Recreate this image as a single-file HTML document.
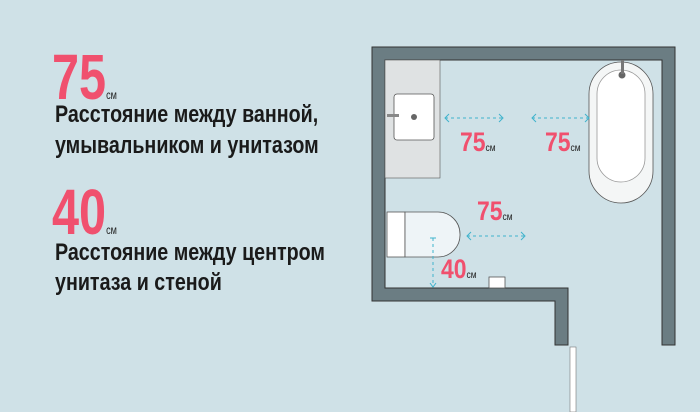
<!DOCTYPE html>
<html><head><meta charset="utf-8"><style>
body{margin:0;width:700px;height:412px;overflow:hidden;background:#cfe1e7;position:relative;font-family:"Liberation Sans",sans-serif}
.t{position:absolute;left:55px;white-space:nowrap;transform-origin:0 0;transform:scaleX(0.82);font-weight:bold;color:#1a1a1a;font-size:24px;line-height:24px}
.big{position:absolute;white-space:nowrap;transform-origin:0 0;transform:scaleX(0.76);color:#f0506e;font-size:64px;line-height:64px;font-weight:bold}
.big small{font-size:12px;color:#222;font-weight:normal}
.l{position:absolute;white-space:nowrap;transform-origin:0 0;transform:scaleX(0.85);color:#f0506e;font-size:27px;line-height:27px;font-weight:bold}
.l small{font-size:10px;color:#222;font-weight:normal}
</style></head><body>
<div class="big" style="left:52px;top:45px">75<small>см</small></div>
<div class="t" style="top:103px">Расстояние между ванной,</div>
<div class="t" style="top:134px">умывальником и унитазом</div>
<div class="big" style="left:52px;top:180px">40<small>см</small></div>
<div class="t" style="top:241px">Расстояние между центром</div>
<div class="t" style="top:271px">унитаза и стеной</div>

<svg style="position:absolute;left:0;top:0" width="700" height="412">
<g fill="#6b7d83" stroke="#333" stroke-width="1">
<path d="M372 47 H675 V345 H662 V60 H385 V288 H568 V345 H555 V301 H372 Z"/>
</g>
<rect x="385" y="60" width="55" height="118" fill="#dfe2e3" stroke="#555" stroke-width="0.6"/>
<rect x="394" y="94" width="40" height="46" rx="3" fill="#fff" stroke="#555" stroke-width="0.8"/>
<circle cx="414" cy="117" r="3" fill="#666"/>
<rect x="387" y="114" width="12" height="3" fill="#888"/>
<rect x="589" y="62" width="64" height="141" rx="32" fill="#f4f6f6" stroke="#555" stroke-width="0.8"/>
<rect x="597" y="70" width="48" height="112" rx="24" fill="#fff" stroke="#999" stroke-width="0.8"/>
<circle cx="622" cy="75" r="3.5" fill="#666"/><rect x="621" y="60" width="3" height="14" fill="#777"/>
<rect x="387" y="212" width="18" height="45" fill="#fff" stroke="#555" stroke-width="0.8"/>
<path d="M405 212 H438 A22 22 0 0 1 460 234 A22 22 0 0 1 438 257 H405 Z" fill="#eef4f7" stroke="#555" stroke-width="0.8"/>
<rect x="489" y="277" width="16" height="11" fill="#fff" stroke="#555" stroke-width="0.8"/>
<rect x="570" y="347" width="6" height="65" fill="#fff" stroke="#777" stroke-width="0.6"/>
<g stroke="#3fb3cc" stroke-width="1" fill="none" stroke-dasharray="3 3">
<line x1="445" y1="118" x2="503" y2="118"/><line x1="532" y1="118" x2="589" y2="118"/>
<line x1="467" y1="236" x2="525" y2="236"/><line x1="433" y1="238" x2="433" y2="287"/>
</g>
<g stroke="#3fb3cc" stroke-width="1" fill="none">
<path d="M449 114 L445 118 L449 122 M499 114 L503 118 L499 122 M536 114 L532 118 L536 122 M585 114 L589 118 L585 122 M471 232 L467 236 L471 240 M521 232 L525 236 L521 240 M430 238 H436 M430 283 L433 287 L436 283"/>
</g>
</svg>
<div class="l" style="left:460px;top:129px">75<small>см</small></div>
<div class="l" style="left:545px;top:129px">75<small>см</small></div>
<div class="l" style="left:477px;top:198px">75<small>см</small></div>
<div class="l" style="left:441px;top:256px">40<small>см</small></div>
</body></html>
